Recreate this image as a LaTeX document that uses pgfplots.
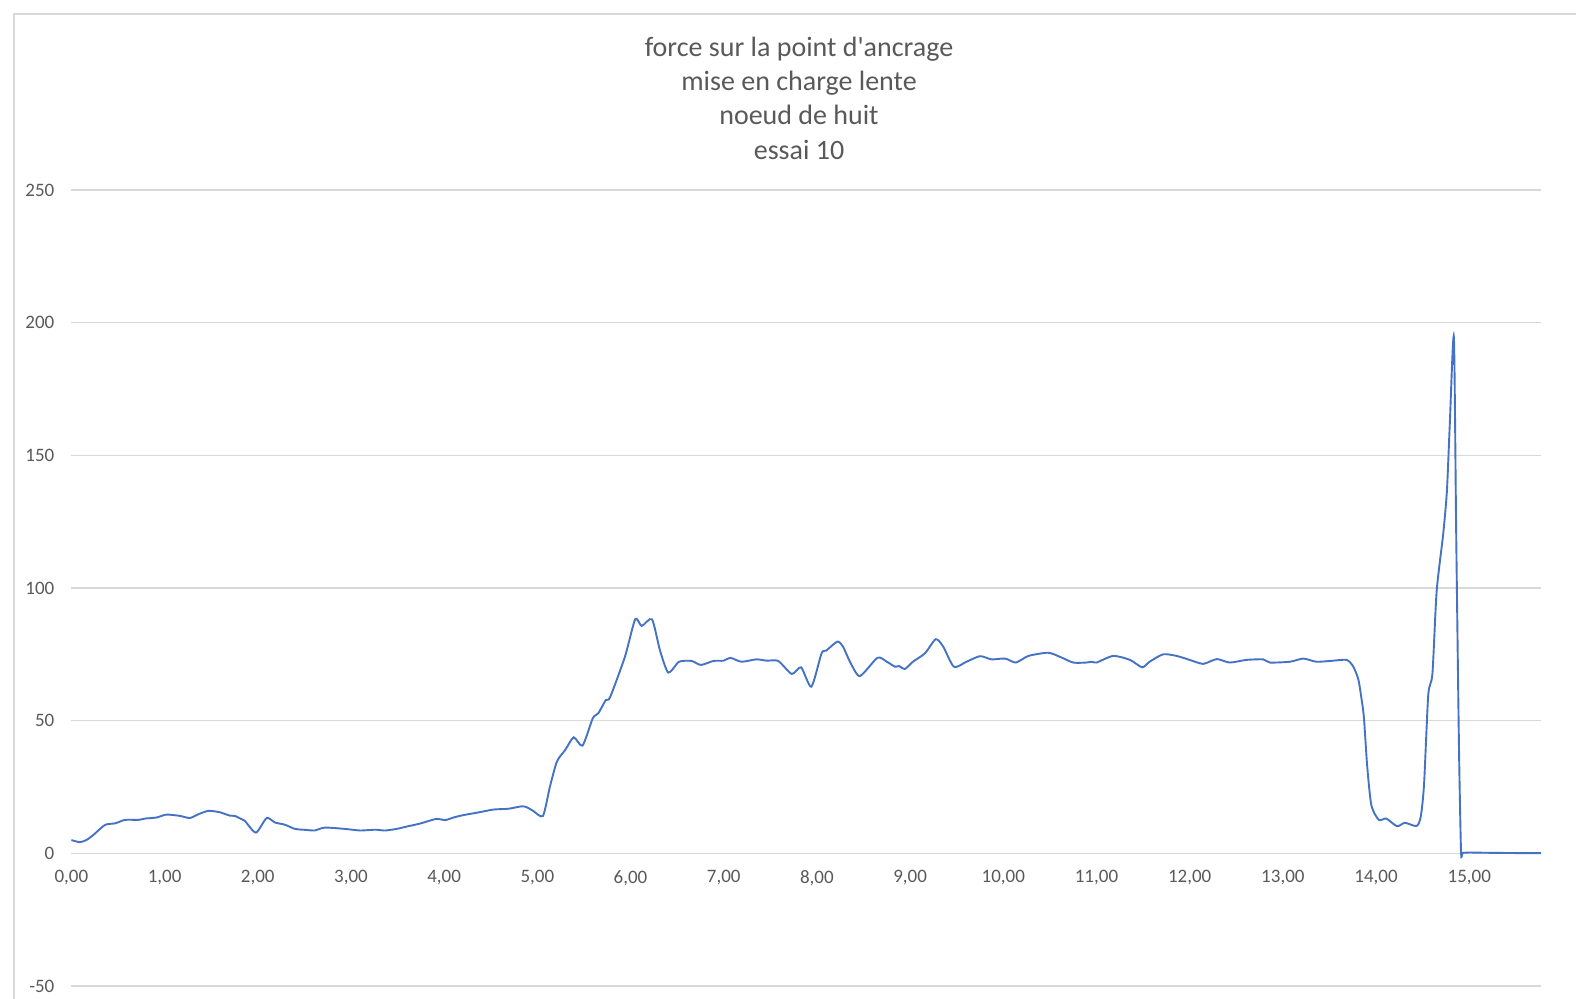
\documentclass[border=0pt]{standalone}
\usepackage{pgfplots}
\pgfplotsset{compat=1.18}
\usepackage{fontspec}
\setmainfont{Carlito}[Ligatures=TeXOff]
\definecolor{txtgray}{HTML}{595959}
\definecolor{gridgray}{HTML}{D9D9D9}
\definecolor{xlblue}{HTML}{4472C4}
\begin{document}
\begin{tikzpicture}
\path[use as bounding box] (0,0) rectangle (788pt,499.5pt);
\draw[gridgray, line width=0.6pt] (7pt,-20pt) -- (7pt,492.5pt) -- (820pt,492.5pt);
\node[align=center, text=txtgray, font=\fontsize{14}{17.1}\selectfont, anchor=north] at (399.5pt,484.5pt)
  {force sur la point d'ancrage\\mise en charge lente\\noeud de huit\\essai 10};
\begin{axis}[
  at={(35.7pt,6.5pt)}, anchor=south west,
  scale only axis, width=734.8pt, height=398pt,
  xmin=0, xmax=15.77, ymin=-50, ymax=250,
  axis x line*=middle, axis y line*=left,
  hide obscured x ticks=false,
  x axis line style={draw=gridgray, line width=0.75pt},
  y axis line style={draw=none},
  xtick={0,1,...,15}, ytick={-50,0,50,100,150,200,250},
  ymajorgrids, grid style={draw=gridgray, line width=0.75pt},
  major tick length=0pt,
  tick label style={text=txtgray, font=\fontsize{9.5}{11}\selectfont},
  /pgf/number format/assume math mode=true,
  xticklabel={\pgfmathprintnumber[fixed,fixed zerofill,precision=2,use comma]{\tick}},
  yticklabel={\pgfmathprintnumber[fixed,precision=0]{\tick}},
  yticklabel style={anchor=east, xshift=-5pt},
  xticklabel style={anchor=north, yshift=-5pt},
  clip=false,
]
\addplot[xlblue, line width=0.95pt, smooth, tension=0.4] coordinates {
(0,5.0)(0.09,4.2)(0.16,5.0)(0.235,6.9)(0.36,10.7)(0.47,11.3)(0.575,12.6)(0.72,12.6)(0.79,13.1)(0.915,13.5)
(1.02,14.6)(1.165,14.1)(1.27,13.3)(1.36,14.7)(1.47,16.0)(1.59,15.5)(1.70,14.2)(1.755,14.1)(1.83,12.8)(1.86,12.3)
(1.98,7.8)(2.095,13.3)(2.185,11.6)(2.29,10.8)(2.40,9.2)(2.525,8.8)(2.61,8.6)(2.72,9.7)(2.935,9.2)(3.10,8.6)
(3.26,8.9)(3.365,8.6)(3.49,9.2)(3.60,10.1)(3.74,11.2)(3.92,13.0)(4.01,12.5)(4.10,13.5)(4.205,14.4)(4.35,15.3)
(4.53,16.5)(4.69,16.8)(4.83,17.7)(4.885,17.4)(4.955,16.0)(5.06,14.1)(5.135,25.1)(5.21,34.6)(5.30,39.0)(5.39,43.7)
(5.485,40.6)(5.595,50.9)(5.655,52.8)(5.735,57.8)(5.78,58.8)(5.94,74.1)(6.05,88.2)(6.12,85.7)(6.23,88.2)(6.315,76.6)
(6.405,68.1)(6.52,72.2)(6.655,72.5)(6.755,71.0)(6.89,72.5)(7.0,72.6)(7.07,73.7)(7.19,72.2)(7.35,73.1)(7.46,72.6)
(7.585,72.5)(7.73,67.6)(7.83,70.1)(7.94,62.8)(8.05,75.4)(8.10,76.4)(8.22,79.8)(8.28,77.9)(8.355,72.2)(8.46,66.8)
(8.65,73.7)(8.75,72.2)(8.84,70.3)(8.88,70.6)(8.945,69.5)(9.03,72.2)(9.16,75.4)(9.275,80.7)(9.355,77.9)(9.47,70.3)
(9.605,72.2)(9.75,74.3)(9.875,73.1)(10.02,73.4)(10.135,71.9)(10.27,74.4)(10.48,75.6)(10.605,74.1)(10.75,71.9)(10.89,71.9)
(10.95,72.2)(11.0,71.9)(11.18,74.4)(11.36,72.9)(11.49,70.1)(11.57,72.2)(11.715,75.0)(11.86,74.4)(12.0,72.9)(12.145,71.4)
(12.29,73.2)(12.43,71.9)(12.61,72.9)(12.79,73.1)(12.86,71.9)(13.075,72.2)(13.22,73.4)(13.36,72.2)(13.54,72.6)(13.685,72.9)
(13.755,70.4)(13.81,65.5)(13.845,58)(13.87,51)(13.905,32.8)(13.95,18.0)(14.03,12.6)(14.11,13.1)(14.225,10.2)(14.31,11.5)
(14.435,10.3)(14.48,13.9)(14.515,26.0)(14.56,59.7)(14.605,67.7)(14.65,98.7)(14.72,120.2)(14.76,136.4)(14.79,160.7)(14.835,194.6)
(14.86,120.3)(14.89,39.5)(14.912,0.5)(14.93,0.2)(15.0,0.3)(15.2,0.2)(15.5,0.1)(15.77,0.1)
};
\end{axis}
\end{tikzpicture}
\end{document}
